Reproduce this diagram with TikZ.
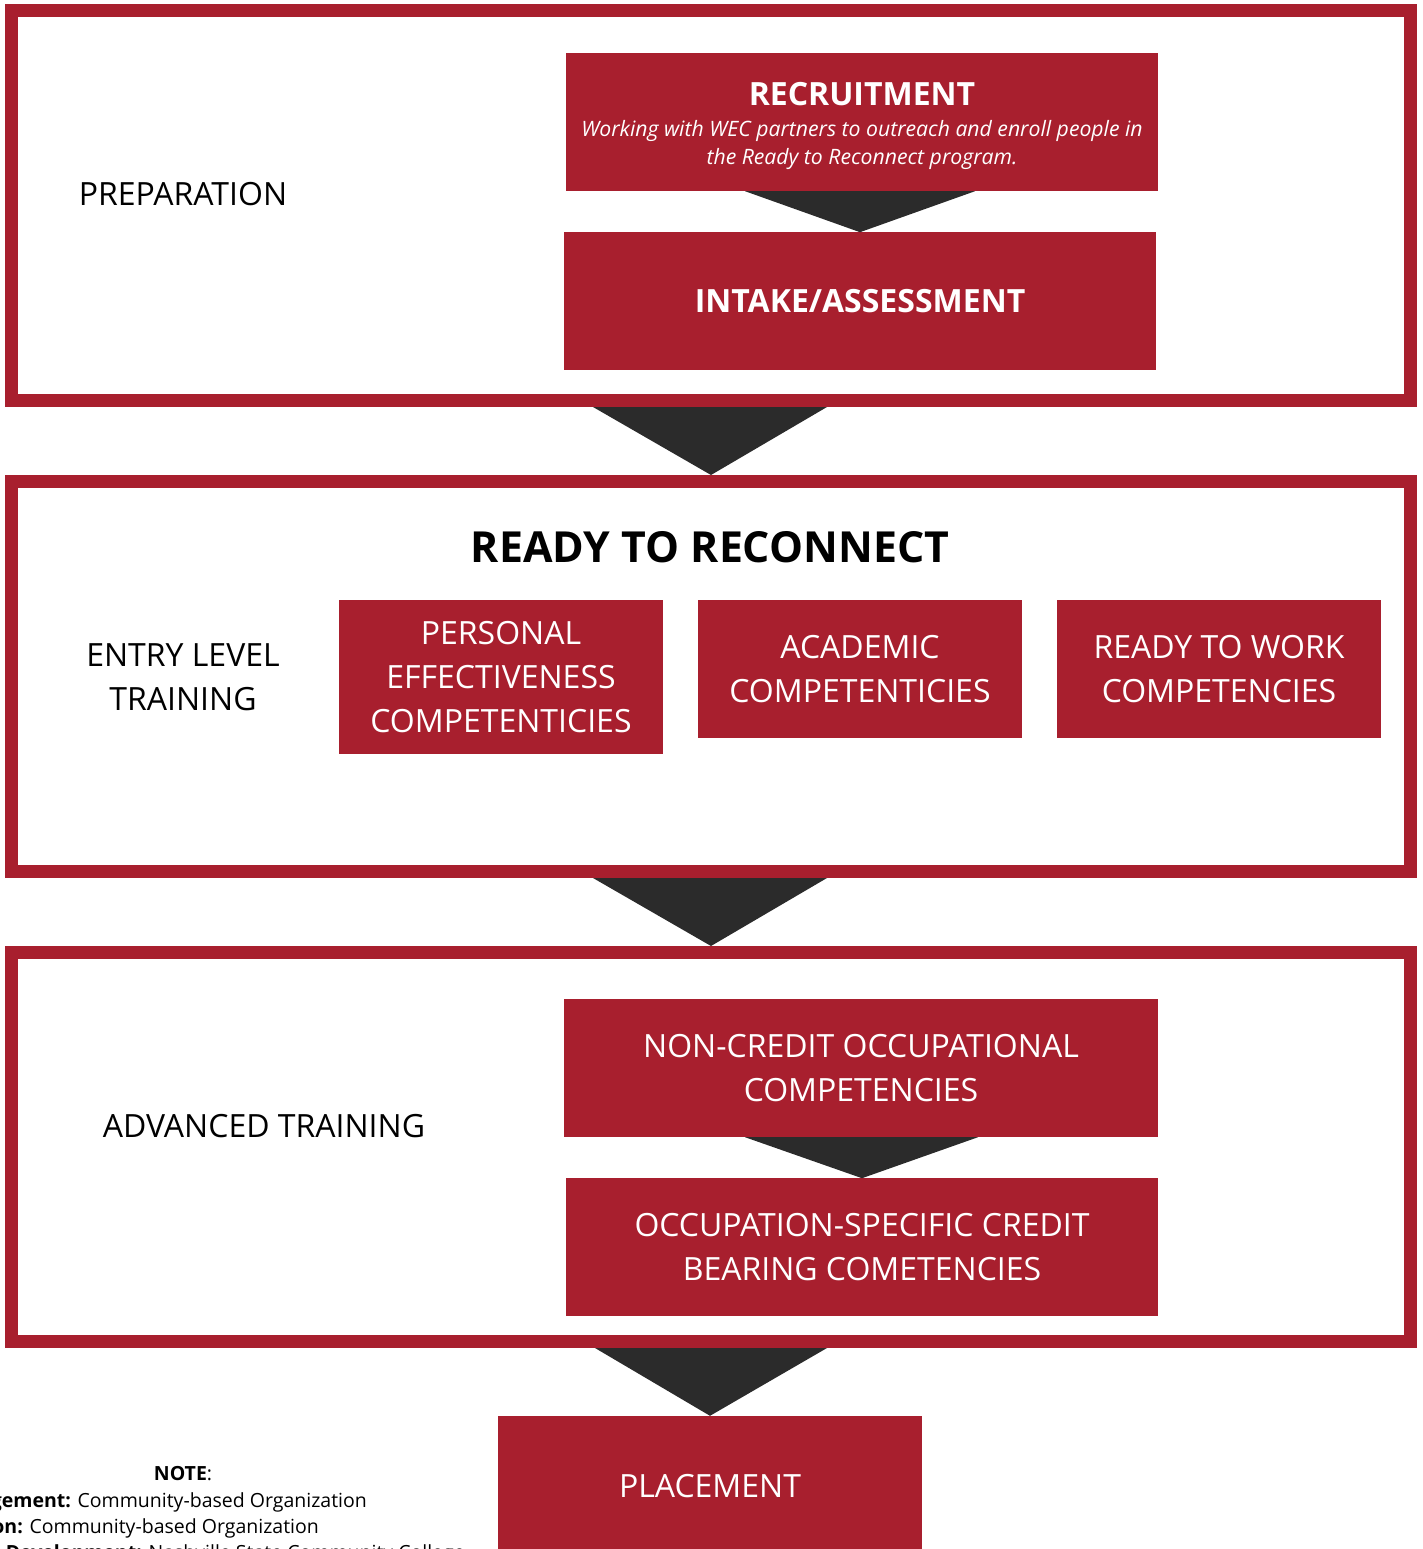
\documentclass[tikz,border=0pt]{standalone}
\usepackage{fontspec}
\setmainfont{Open Sans}
\usetikzlibrary{positioning, calc}

\definecolor{wecred}{RGB}{168,31,46}
\definecolor{arrowgray}{RGB}{43,43,43}

\begin{document}
\begin{tikzpicture}[
    x=1pt, y=-1pt,
    node distance=41pt,
    stage/.style={rectangle, draw=wecred, line width=13pt, minimum width=1399pt, minimum height=390pt},
    redbox/.style={rectangle, fill=wecred, text=white, inner sep=0pt, align=center, minimum width=592pt, minimum height=138pt, font=\fontsize{32}{44}\selectfont},
    smallbox/.style={redbox, minimum width=324pt},
    phase/.style={align=center, font=\fontsize{32}{44}\selectfont},
    notetext/.style={inner sep=0pt, font=\fontsize{19.5}{26}\selectfont},
    funnel/.style={fill=arrowgray}
    ]

    \useasboundingbox (0,0) rectangle (1422,1549);
    \clip (0,0) rectangle (1422,1549);

    % Stage frames
    \node (prep) [stage] at (711,205.5) {};
    \node (ready) [stage] at (711,676.5) {};
    \node (advanced) [stage, minimum height=389pt] at (711,1147) {};

    % Preparation
    \node (preplabel) [phase] at (183,194.5) {PREPARATION};
    \node (recruit) [redbox] at (862,122) {};
    \node (recruittext) [align=center, inner sep=0pt, text=white, font=\itshape\fontsize{21.2}{28}\selectfont] at ($(recruit.center)+(0,4)$)
        {{\upshape\bfseries\fontsize{32}{34}\selectfont RECRUITMENT}\\[3pt]
        Working with WEC partners to outreach and enroll people in\\
        the Ready to Reconnect program.};
    \node (intake) [redbox, below=of recruit, xshift=-2pt, font=\bfseries\fontsize{32}{44}\selectfont] {INTAKE/ASSESSMENT};

    % Ready to Reconnect
    \node (readytitle) [font=\bfseries\fontsize{42.8}{50}\selectfont] at (710,547.5) {READY TO RECONNECT};
    \node (entrylabel) [phase] at (183,677) {ENTRY LEVEL\\TRAINING};
    \node (personal) [smallbox, minimum height=154pt] at (501,677) {PERSONAL\\EFFECTIVENESS\\COMPETENTICIES};
    \node (academic) [smallbox] at (860,669) {ACADEMIC\\COMPETENTICIES};
    \node (readywork) [smallbox] at (1219,669) {READY TO WORK\\COMPETENCIES};

    % Advanced training
    \node (advlabel) [phase] at (264,1126) {ADVANCED TRAINING};
    \node (noncredit) [redbox, minimum width=594pt] at (861,1068) {NON-CREDIT OCCUPATIONAL\\COMPETENCIES};
    \node (occspec) [redbox, below=of noncredit, xshift=1pt] {OCCUPATION-SPECIFIC CREDIT\\BEARING COMETENCIES};

    % Placement
    \node (placement) [redbox, minimum width=424pt, minimum height=140pt] at (710,1486) {PLACEMENT};

    % Funnel arrows
    \fill[funnel] ($(recruit.south)+(-117,0)$) -- ($(recruit.south)+(113,0)$) -- (intake.north) -- cycle;
    \fill[funnel] ($(prep.south)+(-118,0)$) -- ($(prep.south)+(116,0)$) -- (ready.north) -- cycle;
    \fill[funnel] ($(ready.south)+(-118,0)$) -- ($(ready.south)+(116,0)$) -- (advanced.north) -- cycle;
    \fill[funnel] ($(noncredit.south)+(-116,0)$) -- ($(noncredit.south)+(117,0)$) -- (occspec.north) -- cycle;
    \fill[funnel] ($(advanced.south)+(-116,0)$) -- ($(advanced.south)+(116,0)$) -- (placement.north) -- cycle;

    % Note
    \node (note) [notetext, anchor=base] at (183,1480) {\textbf{NOTE}:};
    \node (note1) [notetext, anchor=base east] at (367,1507) {\textbf{gement:} Community-based Organization};
    \node (note2) [notetext, anchor=base east] at (319,1533) {\textbf{on:} Community-based Organization};
    \node (note3) [notetext, anchor=base east] at (465,1559) {\textbf{Development:} Nashville State Community College};
\end{tikzpicture}
\end{document}
